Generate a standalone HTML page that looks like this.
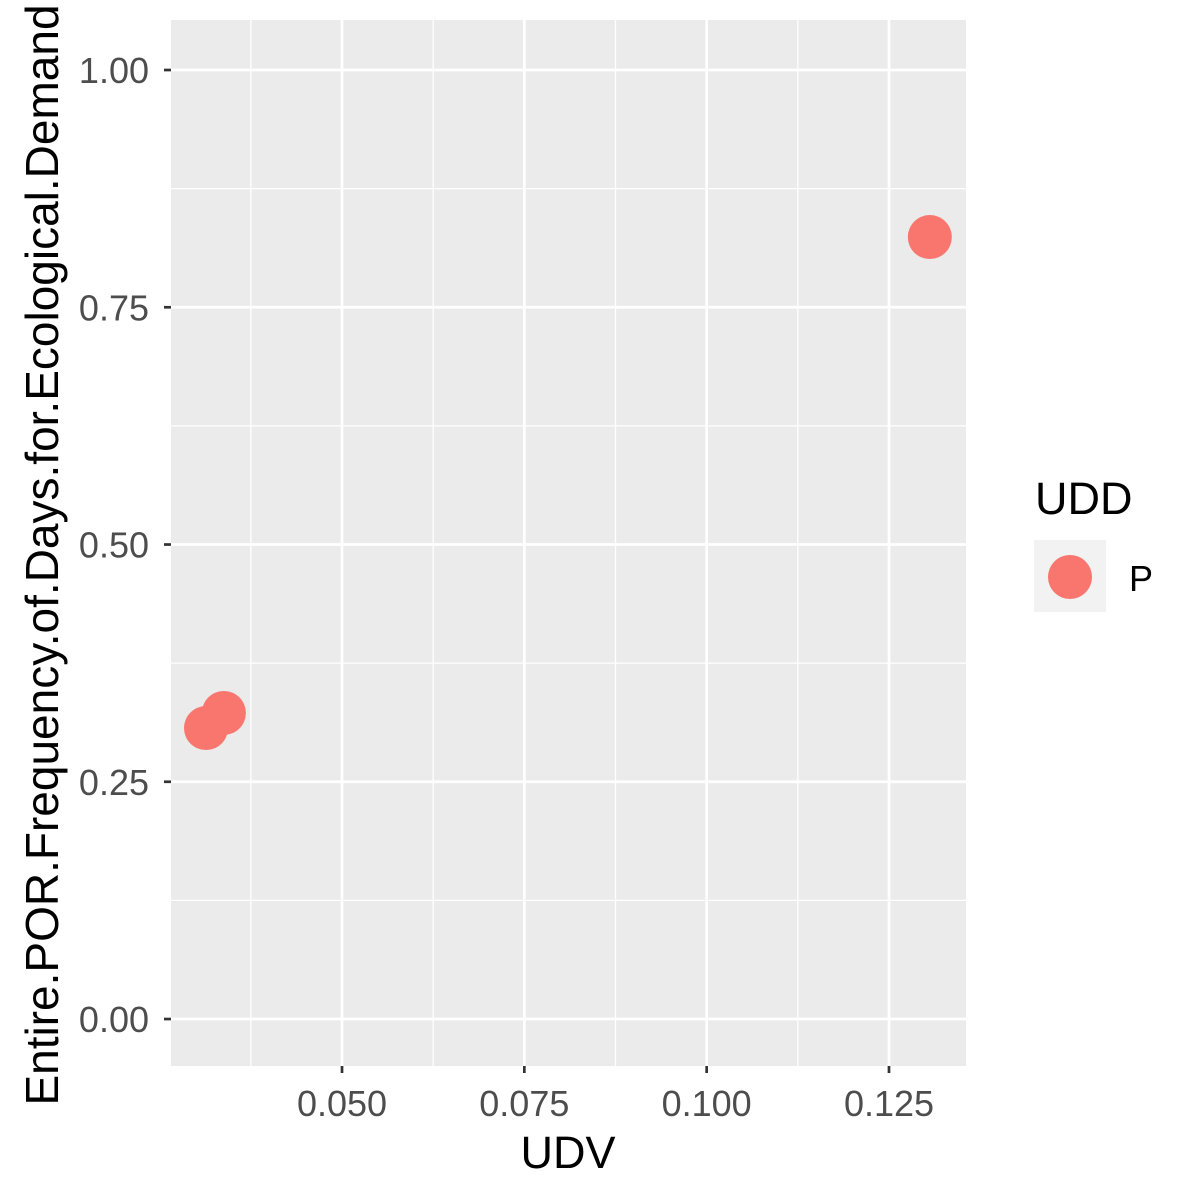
<!DOCTYPE html>
<html><head><meta charset="utf-8"><style>
html,body{margin:0;padding:0;background:#fff;}
svg{display:block;font-family:"Liberation Sans",Arial,sans-serif;}
</style></head><body>
<svg id="chart" width="1200" height="1200" viewBox="0 0 1200 1200">
<rect x="171" y="20" width="795" height="1046" fill="#EBEBEB"/>
<g id="grid"></g><g id="axes"></g><g id="pts"></g>
<text x="568" y="1168" font-size="45" text-anchor="middle" fill="#000">UDV</text>
<text transform="translate(58,555) rotate(-90)" font-size="46" text-anchor="middle" fill="#000">Entire.POR.Frequency.of.Days.for.Ecological.Demand</text>
<g>
<text x="1035" y="514" font-size="45" fill="#000">UDD</text>
<rect x="1034" y="540" width="72" height="72" fill="#F2F2F2"/>
<circle cx="1070" cy="577" r="22" fill="#F8766D"/>
<text x="1129" y="591" font-size="36" fill="#000">P</text>
</g>
</svg>
<script>
const xVals=[0.1306,0.0338,0.03135];
const yVals=[0.824,0.3225,0.3066];
const xTicks=[0.05,0.075,0.1,0.125];
const xTickLabels=["0.050","0.075","0.100","0.125"];
const yTicks=[0,0.25,0.5,0.75,1];
const yTickLabels=["0.00","0.25","0.50","0.75","1.00"];
const X0=171,X1=966,Y0=20,Y1=1066;
const xMin=0.02655,xMax=0.13556,yMin=-0.0495,yMax=1.0527;
const sx=v=>X0+(v-xMin)/(xMax-xMin)*(X1-X0);
const sy=v=>Y1-(v-yMin)/(yMax-yMin)*(Y1-Y0);
const NS="http://www.w3.org/2000/svg";
function mk(tag,attrs,parent,txt){const e=document.createElementNS(NS,tag);for(const k in attrs)e.setAttribute(k,attrs[k]);if(txt!==undefined)e.textContent=txt;document.getElementById(parent).appendChild(e);return e;}
const xMinor=[0.0375,0.0625,0.0875,0.1125];
const yMinor=[0.125,0.375,0.625,0.875];
xMinor.forEach(v=>{const l=mk('line',{x1:sx(v),x2:sx(v),y1:Y0,y2:Y1,stroke:'#fff','stroke-width':1.3},'grid');

});
yMinor.forEach(v=>{const l=mk('line',{x1:X0,x2:X1,y1:sy(v),y2:sy(v),stroke:'#fff','stroke-width':1.3},'grid');

});
xTicks.forEach((v,i)=>{const x=sx(v);
const l=mk('line',{x1:x,x2:x,y1:Y0,y2:Y1,stroke:'#fff','stroke-width':2.7},'grid');


const t=mk('line',{x1:x,x2:x,y1:Y1,y2:Y1+7,stroke:'#333','stroke-width':2.7},'axes');


const tx=mk('text',{x:x,y:1116,'font-size':36,'text-anchor':'middle',fill:'#4D4D4D'},'axes',xTickLabels[i]);

});
yTicks.forEach((v,i)=>{const y=sy(v);
const l=mk('line',{x1:X0,x2:X1,y1:y,y2:y,stroke:'#fff','stroke-width':2.7},'grid');


const t=mk('line',{x1:X0-7,x2:X0,y1:y,y2:y,stroke:'#333','stroke-width':2.7},'axes');


const tx=mk('text',{x:X0-22,y:y+13,'font-size':36,'text-anchor':'end',fill:'#4D4D4D'},'axes',yTickLabels[i]);

});
xVals.forEach((v,i)=>{const c=mk('circle',{cx:sx(v),cy:sy(yVals[i]),r:22,fill:'#F8766D'},'pts');

});
</script>
</body></html>
